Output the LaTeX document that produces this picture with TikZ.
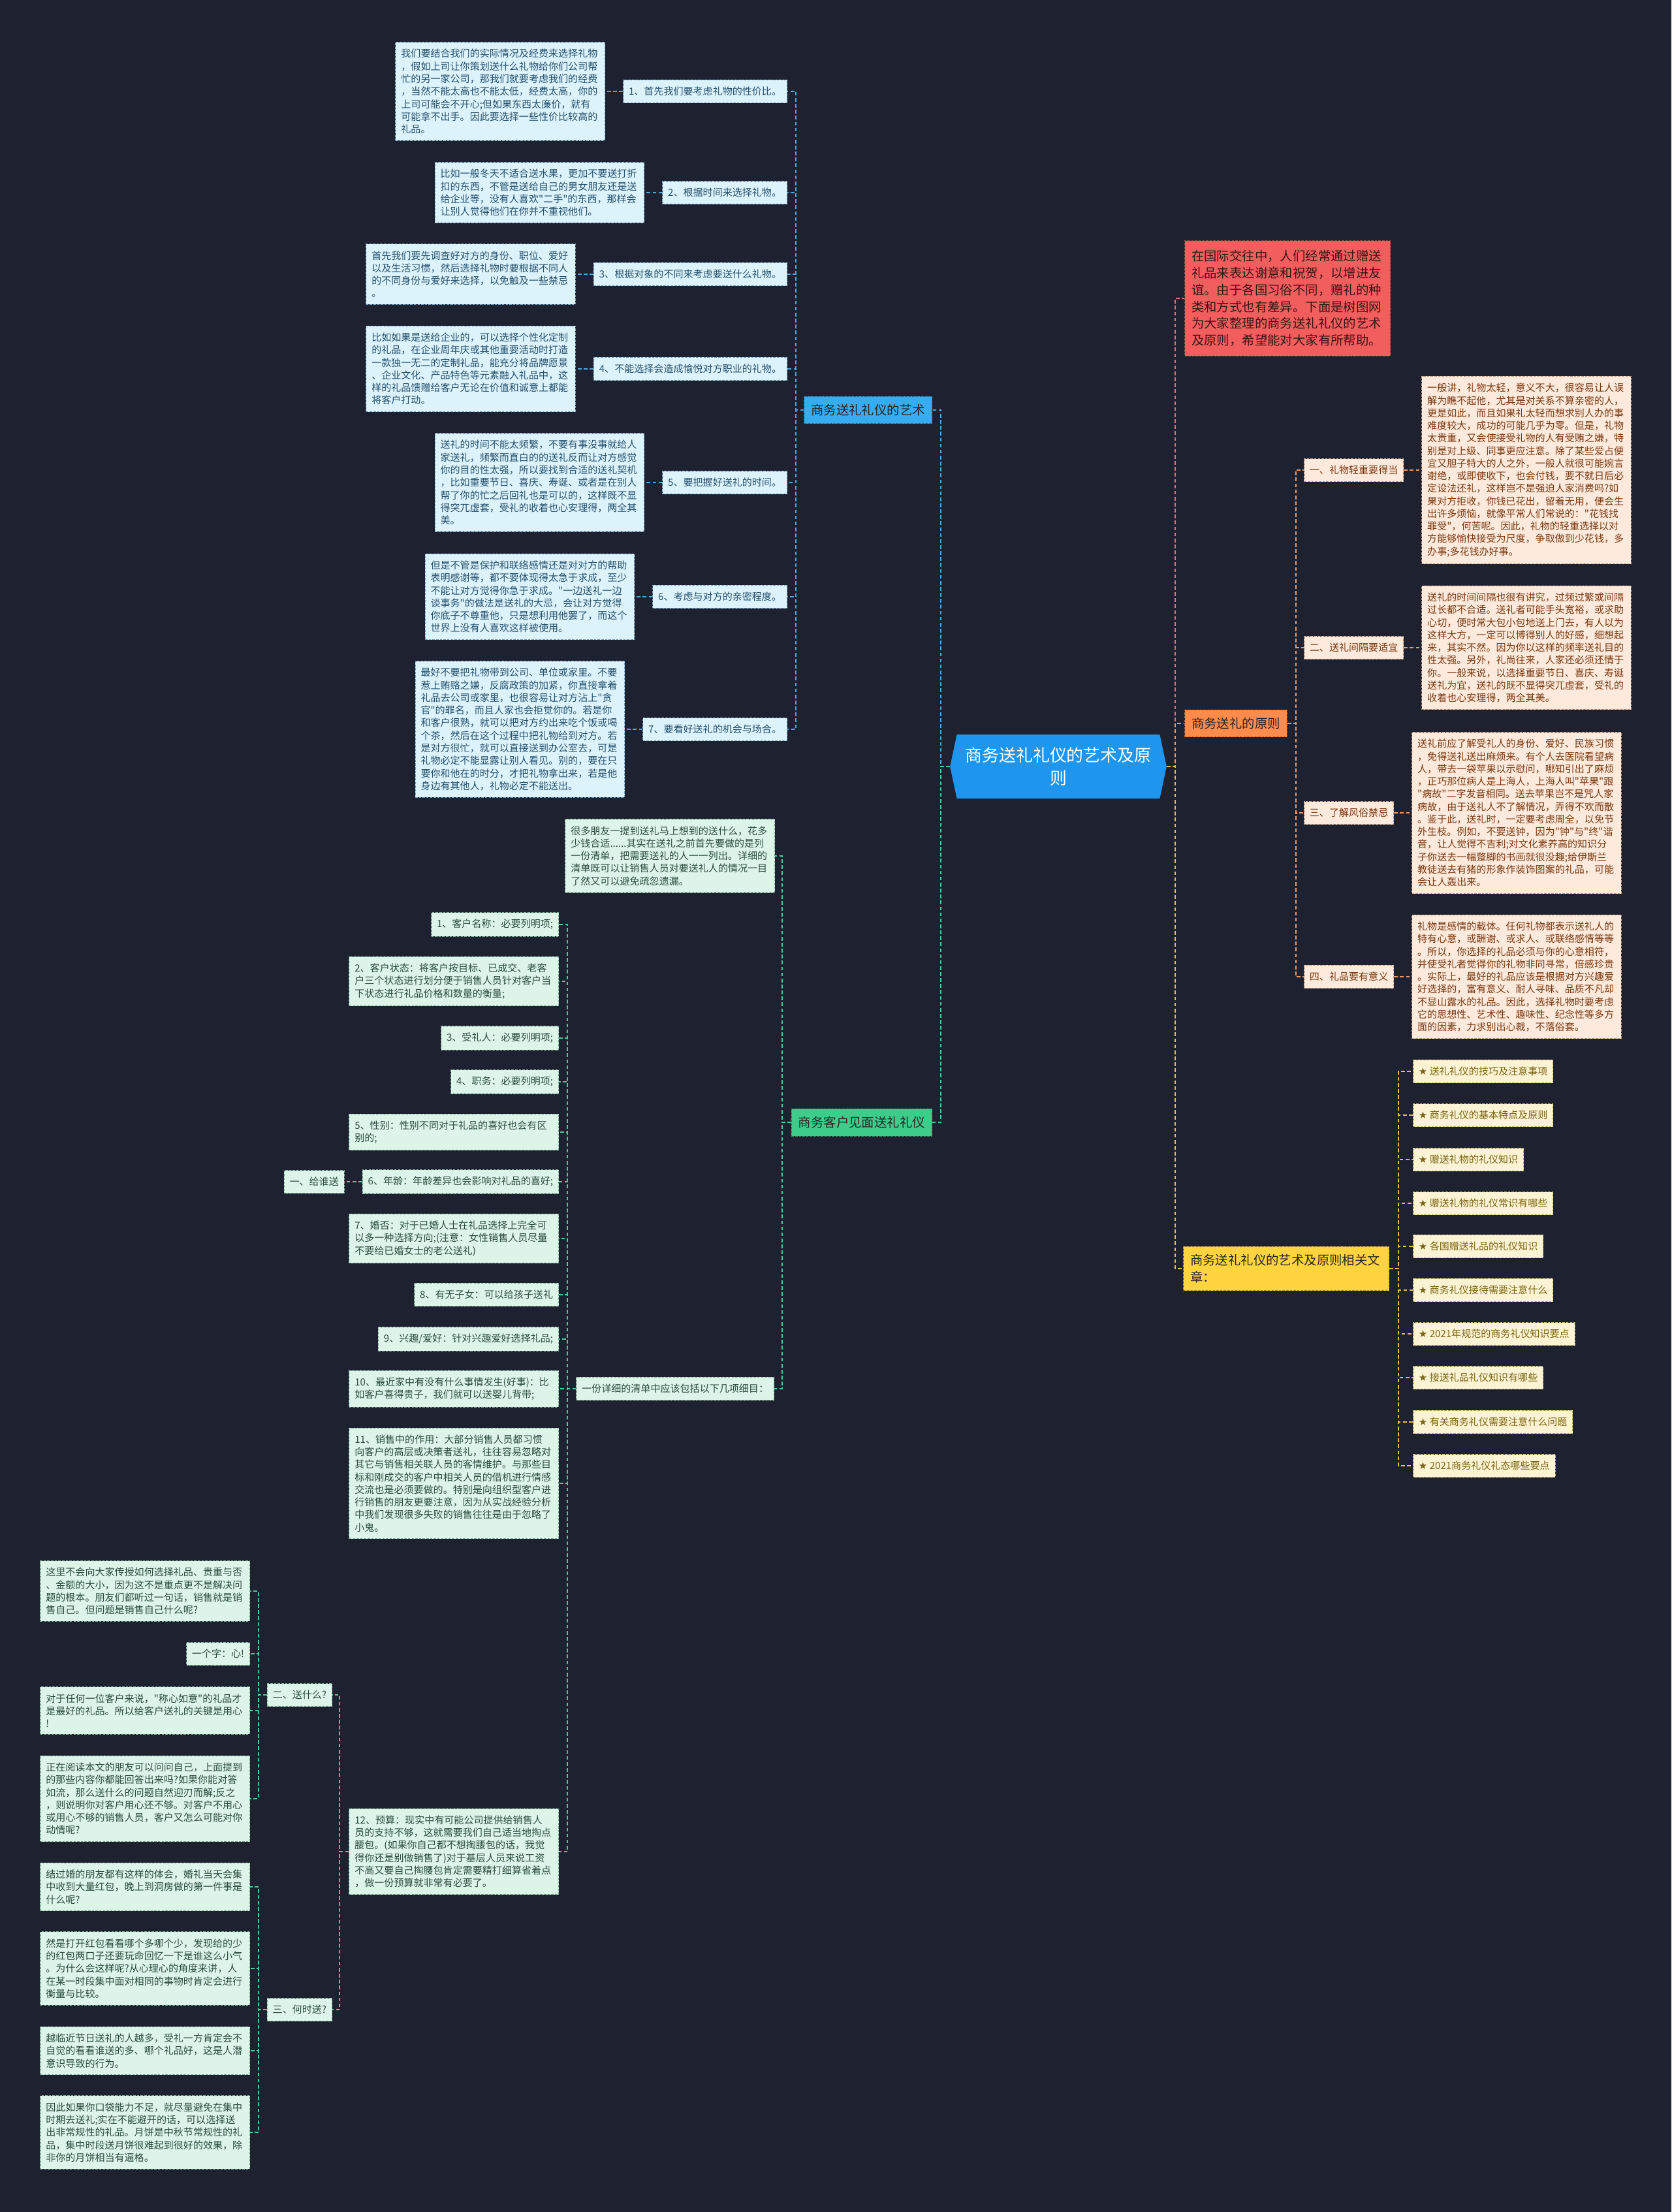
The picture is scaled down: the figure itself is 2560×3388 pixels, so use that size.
\documentclass[tikz,border=0pt]{standalone}
\usepackage{fontspec}
\newfontfamily\cjk{Noto Sans CJK SC}
\newfontfamily\symb{DejaVu Sans}
\usepackage{xcolor}
\usepackage{tikz}
\usetikzlibrary{positioning,shapes.symbols}

\newcommand\fxiao{\fontsize{10.7pt}{13.7pt}\selectfont}
\newcommand\fzhong{\fontsize{13.8pt}{18.3pt}\selectfont}
\newcommand\fda{\fontsize{18.4pt}{24.9pt}\selectfont}

\definecolor{bgdark}{HTML}{1E2230}
\definecolor{zhuti}{HTML}{1E96F0}
\definecolor{yishuc}{HTML}{38ACF0}
\definecolor{bleafc}{HTML}{DDF3FC}
\definecolor{bedgec}{HTML}{6FA2C0}
\definecolor{btextc}{HTML}{24506C}
\definecolor{blianc}{HTML}{4DA6DC}
\definecolor{kehuc}{HTML}{3DCC8A}
\definecolor{gleafc}{HTML}{DCF5E8}
\definecolor{gedgec}{HTML}{7AAE96}
\definecolor{gtextc}{HTML}{2B4A3E}
\definecolor{glianc}{HTML}{4FC79A}
\definecolor{yuanzec}{HTML}{FF8B4C}
\definecolor{oleafc}{HTML}{FDEADC}
\definecolor{oedgec}{HTML}{C39A7C}
\definecolor{otextc}{HTML}{7A3810}
\definecolor{olianc}{HTML}{EE9A68}
\definecolor{yinyanc}{HTML}{F25E5E}
\definecolor{rtextc}{HTML}{3A1414}
\definecolor{rlianc}{HTML}{E0707A}
\definecolor{wenzhangc}{HTML}{FFD43F}
\definecolor{yleafc}{HTML}{FBF3D3}
\definecolor{yedgec}{HTML}{C2AE66}
\definecolor{ytextc}{HTML}{7A6412}
\definecolor{ylianc}{HTML}{E2C04A}

\tikzset{
  lian/.style={line width=1.3pt, dash pattern=on 4pt off 2.5pt},
  blian/.style={lian, draw=blianc},
  glian/.style={lian, draw=glianc},
  olian/.style={lian, draw=olianc},
  rlian/.style={lian, draw=rlianc},
  ylian/.style={lian, draw=ylianc},
  kuang/.style={draw, dash pattern=on 2.5pt off 1.5pt, line width=0.7pt},
  leaf/.style={kuang, font=\cjk\fxiao, inner xsep=6pt, inner ysep=7.5pt, align=left},
  duan/.style={text width=216pt},
  bleaf/.style={leaf, fill=bleafc, draw=bedgec, text=btextc},
  gleaf/.style={leaf, fill=gleafc, draw=gedgec, text=gtextc},
  oleaf/.style={leaf, fill=oleafc, draw=oedgec, text=otextc},
  yleaf/.style={leaf, fill=yleafc, draw=yedgec, text=ytextc},
  zhi/.style={kuang, font=\cjk\fzhong, text=black!85, inner xsep=7.5pt, inner ysep=8.5pt, align=left},
  zhongxin/.style={signal, signal to=west and east, signal pointer angle=156, fill=zhuti,
    text=white, font=\cjk\fda, align=center, text width=205pt, inner xsep=8pt, minimum height=2.45cm}
}

\begin{document}
\begin{tikzpicture}[x=0.025cm, y=-0.025cm]
  % 1. 背景
  \fill[bgdark] (0,0) rectangle (2560,3388);
  \useasboundingbox (0,0) rectangle (2560,3388);
  \def\jian{0.675cm}

  % 2. 中心主题
  \node[zhongxin] (root) at (1621,1174) {商务送礼礼仪的艺术及原\\则};

  % 3. 一级分支
  \node[zhi, fill=yishuc, draw=yishuc!70!black, anchor=east] (yishu) at (1428,628) {商务送礼礼仪的艺术};
  \node[zhi, fill=kehuc, draw=kehuc!70!black, anchor=east] (kehu) at (1428,1719) {商务客户见面送礼礼仪};
  \node[zhi, fill=yinyanc, draw=yinyanc!70!black, text=rtextc, text width=209pt, inner ysep=10.5pt, anchor=west] (yinyan) at (1814,457)
    {在国际交往中，人们经常通过赠送\\礼品来表达谢意和祝贺，以增进友\\谊。由于各国习俗不同，赠礼的种\\类和方式也有差异。下面是树图网\\为大家整理的商务送礼礼仪的艺术\\及原则，希望能对大家有所帮助。};
  \node[zhi, fill=yuanzec, draw=yuanzec!70!black, anchor=west] (yuanze) at (1814,1108) {商务送礼的原则};
  \node[zhi, fill=wenzhangc, draw=wenzhangc!70!black, text width=209pt, anchor=west] (wenzhang) at (1812,1943)
    {商务送礼礼仪的艺术及原则相关文\\章：};

  % 4. 商务送礼礼仪的艺术
  \node[bleaf, anchor=east] (y1) at (1206,140) {1、首先我们要考虑礼物的性价比。};
  \node[bleaf, anchor=east] (y2) at (1206,295) {2、根据时间来选择礼物。};
  \node[bleaf, anchor=east] (y3) at (1206,420) {3、根据对象的不同来考虑要送什么礼物。};
  \node[bleaf, anchor=east] (y4) at (1206,565) {4、不能选择会造成愉悦对方职业的礼物。};
  \node[bleaf, anchor=east] (y5) at (1206,739) {5、要把握好送礼的时间。};
  \node[bleaf, anchor=east] (y6) at (1206,914) {6、考虑与对方的亲密程度。};
  \node[bleaf, anchor=east] (y7) at (1206,1117) {7、要看好送礼的机会与场合。};

  \node[bleaf, duan, left=\jian of y1] (t1) {我们要结合我们的实际情况及经费来选择礼物\\，假如上司让你策划送什么礼物给你们公司帮\\忙的另一家公司，那我们就要考虑我们的经费\\，当然不能太高也不能太低，经费太高，你的\\上司可能会不开心;但如果东西太廉价，就有\\可能拿不出手。因此要选择一些性价比较高的\\礼品。};
  \node[bleaf, duan, left=\jian of y2] (t2) {比如一般冬天不适合送水果，更加不要送打折\\扣的东西，不管是送给自己的男女朋友还是送\\给企业等，没有人喜欢"二手"的东西，那样会\\让别人觉得他们在你并不重视他们。};
  \node[bleaf, duan, left=\jian of y3] (t3) {首先我们要先调查好对方的身份、职位、爱好\\以及生活习惯，然后选择礼物时要根据不同人\\的不同身份与爱好来选择，以免触及一些禁忌\\。};
  \node[bleaf, duan, left=\jian of y4] (t4) {比如如果是送给企业的，可以选择个性化定制\\的礼品，在企业周年庆或其他重要活动时打造\\一款独一无二的定制礼品，能充分将品牌愿景\\、企业文化、产品特色等元素融入礼品中，这\\样的礼品馈赠给客户无论在价值和诚意上都能\\将客户打动。};
  \node[bleaf, duan, left=\jian of y5] (t5) {送礼的时间不能太频繁，不要有事没事就给人\\家送礼，频繁而直白的的送礼反而让对方感觉\\你的目的性太强，所以要找到合适的送礼契机\\，比如重要节日、喜庆、寿诞、或者是在别人\\帮了你的忙之后回礼也是可以的，这样既不显\\得突兀虚套，受礼的收着也心安理得，两全其\\美。};
  \node[bleaf, duan, left=\jian of y6] (t6) {但是不管是保护和联络感情还是对对方的帮助\\表明感谢等，都不要体现得太急于求成，至少\\不能让对方觉得你急于求成。"一边送礼一边\\谈事务"的做法是送礼的大忌，会让对方觉得\\你底子不尊重他，只是想利用他罢了，而这个\\世界上没有人喜欢这样被使用。};
  \node[bleaf, duan, left=\jian of y7] (t7) {最好不要把礼物带到公司、单位或家里。不要\\惹上贿赂之嫌，反腐政策的加紧，你直接拿着\\礼品去公司或家里，也很容易让对方沾上"贪\\官"的罪名，而且人家也会拒觉你的。若是你\\和客户很熟，就可以把对方约出来吃个饭或喝\\个茶，然后在这个过程中把礼物给到对方。若\\是对方很忙，就可以直接送到办公室去，可是\\礼物必定不能显露让别人看见。别的，要在只\\要你和他在的时分，才把礼物拿出来，若是他\\身边有其他人，礼物必定不能送出。};

  % 5. 商务送礼的原则
  \node[oleaf, anchor=west] (o1) at (1997,720) {一、礼物轻重要得当};
  \node[oleaf, anchor=west] (o2) at (1997,992) {二、送礼间隔要适宜};
  \node[oleaf, anchor=west] (o3) at (1997,1245) {三、了解风俗禁忌};
  \node[oleaf, anchor=west] (o4) at (1997,1496) {四、礼品要有意义};

  \node[oleaf, duan, right=\jian of o1] (s1) {一般讲，礼物太轻，意义不大，很容易让人误\\解为瞧不起他，尤其是对关系不算亲密的人，\\更是如此，而且如果礼太轻而想求别人办的事\\难度较大，成功的可能几乎为零。但是，礼物\\太贵重，又会使接受礼物的人有受贿之嫌，特\\别是对上级、同事更应注意。除了某些爱占便\\宜又胆子特大的人之外，一般人就很可能婉言\\谢绝，或即使收下，也会付钱，要不就日后必\\定设法还礼，这样岂不是强迫人家消费吗?如\\果对方拒收，你钱已花出，留着无用，便会生\\出许多烦恼，就像平常人们常说的："花钱找\\罪受"，何苦呢。因此，礼物的轻重选择以对\\方能够愉快接受为尺度，争取做到少花钱，多\\办事;多花钱办好事。};
  \node[oleaf, duan, right=\jian of o2] (s2) {送礼的时间间隔也很有讲究，过频过繁或间隔\\过长都不合适。送礼者可能手头宽裕，或求助\\心切，便时常大包小包地送上门去，有人以为\\这样大方，一定可以博得别人的好感，细想起\\来，其实不然。因为你以这样的频率送礼目的\\性太强。另外，礼尚往来，人家还必须还情于\\你。一般来说，以选择重要节日、喜庆、寿诞\\送礼为宜，送礼的既不显得突兀虚套，受礼的\\收着也心安理得，两全其美。};
  \node[oleaf, duan, right=\jian of o3] (s3) {送礼前应了解受礼人的身份、爱好、民族习惯\\，免得送礼送出麻烦来。有个人去医院看望病\\人，带去一袋苹果以示慰问，哪知引出了麻烦\\，正巧那位病人是上海人，上海人叫"苹果"跟\\"病故"二字发音相同。送去苹果岂不是咒人家\\病故，由于送礼人不了解情况，弄得不欢而散\\。鉴于此，送礼时，一定要考虑周全，以免节\\外生枝。例如，不要送钟，因为"钟"与"终"谐\\音，让人觉得不吉利;对文化素养高的知识分\\子你送去一幅蹩脚的书画就很没趣;给伊斯兰\\教徒送去有猪的形象作装饰图案的礼品，可能\\会让人轰出来。};
  \node[oleaf, duan, right=\jian of o4] (s4) {礼物是感情的载体。任何礼物都表示送礼人的\\特有心意，或酬谢、或求人、或联络感情等等\\。所以，你选择的礼品必须与你的心意相符，\\并使受礼者觉得你的礼物非同寻常，倍感珍贵\\。实际上，最好的礼品应该是根据对方兴趣爱\\好选择的，富有意义、耐人寻味、品质不凡却\\不显山露水的礼品。因此，选择礼物时要考虑\\它的思想性、艺术性、趣味性、纪念性等多方\\面的因素，力求别出心裁，不落俗套。};

  % 6. 相关文章
  \node[yleaf, anchor=west] (w1) at (2164,1641) {{\symb ★} 送礼礼仪的技巧及注意事项};
  \node[yleaf, anchor=west] (w2) at (2164,1708) {{\symb ★} 商务礼仪的基本特点及原则};
  \node[yleaf, anchor=west] (w3) at (2164,1776) {{\symb ★} 赠送礼物的礼仪知识};
  \node[yleaf, anchor=west] (w4) at (2164,1843) {{\symb ★} 赠送礼物的礼仪常识有哪些};
  \node[yleaf, anchor=west] (w5) at (2164,1909) {{\symb ★} 各国赠送礼品的礼仪知识};
  \node[yleaf, anchor=west] (w6) at (2164,1976) {{\symb ★} 商务礼仪接待需要注意什么};
  \node[yleaf, anchor=west] (w7) at (2164,2043) {{\symb ★} 2021年规范的商务礼仪知识要点};
  \node[yleaf, anchor=west] (w8) at (2164,2110) {{\symb ★} 接送礼品礼仪知识有哪些};
  \node[yleaf, anchor=west] (w9) at (2164,2178) {{\symb ★} 有关商务礼仪需要注意什么问题};
  \node[yleaf, anchor=west] (w10) at (2164,2245) {{\symb ★} 2021商务礼仪礼态哪些要点};

  % 7. 商务客户见面送礼礼仪
  \node[gleaf, duan, anchor=east] (gintro) at (1187,1311) {很多朋友一提到送礼马上想到的送什么，花多\\少钱合适......其实在送礼之前首先要做的是列\\一份清单，把需要送礼的人一一列出。详细的\\清单既可以让销售人员对要送礼人的情况一目\\了然又可以避免疏忽遗漏。};
  \node[gleaf, anchor=east] (glist) at (1186,2127) {一份详细的清单中应该包括以下几项细目：};

  \node[gleaf, anchor=east] (g1) at (856,1416) {1、客户名称：必要列明项;};
  \node[gleaf, duan, anchor=east] (g2) at (856,1503) {2、客户状态：将客户按目标、已成交、老客\\户三个状态进行划分便于销售人员针对客户当\\下状态进行礼品价格和数量的衡量;};
  \node[gleaf, anchor=east] (g3) at (856,1590) {3、受礼人：必要列明项;};
  \node[gleaf, anchor=east] (g4) at (856,1657) {4、职务：必要列明项;};
  \node[gleaf, duan, anchor=east] (g5) at (856,1734) {5、性别：性别不同对于礼品的喜好也会有区\\别的;};
  \node[gleaf, anchor=east] (g6) at (856,1810) {6、年龄：年龄差异也会影响对礼品的喜好;};
  \node[gleaf, duan, anchor=east] (g7) at (856,1897) {7、婚否：对于已婚人士在礼品选择上完全可\\以多一种选择方向;(注意：女性销售人员尽量\\不要给已婚女士的老公送礼)};
  \node[gleaf, anchor=east] (g8) at (856,1983) {8、有无子女：可以给孩子送礼};
  \node[gleaf, anchor=east] (g9) at (856,2051) {9、兴趣/爱好：针对兴趣爱好选择礼品;};
  \node[gleaf, duan, anchor=east] (g10) at (856,2127) {10、最近家中有没有什么事情发生(好事)：比\\如客户喜得贵子，我们就可以送婴儿背带;};
  \node[gleaf, duan, anchor=east] (g11) at (856,2272) {11、销售中的作用：大部分销售人员都习惯\\向客户的高层或决策者送礼，往往容易忽略对\\其它与销售相关联人员的客情维护。与那些目\\标和刚成交的客户中相关人员的借机进行情感\\交流也是必须要做的。特别是向组织型客户进\\行销售的朋友更要注意，因为从实战经验分析\\中我们发现很多失败的销售往往是由于忽略了\\小鬼。};
  \node[gleaf, duan, anchor=east] (g12) at (856,2836) {12、预算：现实中有可能公司提供给销售人\\员的支持不够，这就需要我们自己适当地掏点\\腰包。(如果你自己都不想掏腰包的话，我觉\\得你还是别做销售了)对于基层人员来说工资\\不高又要自己掏腰包肯定需要精打细算省着点\\，做一份预算就非常有必要了。};

  \node[gleaf, left=\jian of g6] (gsong) {一、给谁送};
  \node[gleaf, anchor=east] (q2) at (509,2596) {二、送什么?};
  \node[gleaf, anchor=east] (q3) at (509,3078) {三、何时送?};

  \node[gleaf, duan, anchor=east] (a1) at (383,2437) {这里不会向大家传授如何选择礼品、贵重与否\\、金额的大小，因为这不是重点更不是解决问\\题的根本。朋友们都听过一句话，销售就是销\\售自己。但问题是销售自己什么呢?};
  \node[gleaf, anchor=east] (a2) at (383,2533) {一个字：心!};
  \node[gleaf, duan, anchor=east] (a3) at (383,2620) {对于任何一位客户来说，"称心如意"的礼品才\\是最好的礼品。所以给客户送礼的关键是用心\\!};
  \node[gleaf, duan, anchor=east] (a4) at (383,2755) {正在阅读本文的朋友可以问问自己，上面提到\\的那些内容你都能回答出来吗?如果你能对答\\如流，那么送什么的问题自然迎刃而解;反之\\，则说明你对客户用心还不够。对客户不用心\\或用心不够的销售人员，客户又怎么可能对你\\动情呢?};
  \node[gleaf, duan, anchor=east] (b1) at (383,2890) {结过婚的朋友都有这样的体会，婚礼当天会集\\中收到大量红包，晚上到洞房做的第一件事是\\什么呢?};
  \node[gleaf, duan, anchor=east] (b2) at (383,3015) {然是打开红包看看哪个多哪个少，发现给的少\\的红包两口子还要玩命回忆一下是谁这么小气\\。为什么会这样呢?从心理心的角度来讲，人\\在某一时段集中面对相同的事物时肯定会进行\\衡量与比较。};
  \node[gleaf, duan, anchor=east] (b3) at (383,3141) {越临近节日送礼的人越多，受礼一方肯定会不\\自觉的看看谁送的多、哪个礼品好，这是人潜\\意识导致的行为。};
  \node[gleaf, duan, anchor=east] (b4) at (383,3266) {因此如果你口袋能力不足，就尽量避免在集中\\时期去送礼;实在不能避开的话，可以选择送\\出非常规性的礼品。月饼是中秋节常规性的礼\\品，集中时段送月饼很难起到很好的效果，除\\非你的月饼相当有逼格。};

  % 8. 连线：中心到分支
  \draw[blian] (root.west) -- ++(-14,0) |- (yishu.east);
  \draw[glian] (root.west) -- ++(-14,0) |- (kehu.east);
  \draw[rlian] (root.east) -- ++(13,0) |- (yinyan.west);
  \draw[olian] (root.east) -- ++(13,0) |- (yuanze.west);
  \draw[ylian] (root.east) -- ++(13,0) |- (wenzhang.west);

  % 9. 连线：分支到子节点
  \foreach \i in {1,...,7} {
    \draw[blian] (yishu.west) -- ++(-12,0) |- (y\i.east);
    \draw[blian] (y\i.west) -- (t\i.east);
  }
  \foreach \i in {1,...,4} {
    \draw[olian] (yuanze.east) -- ++(13,0) |- (o\i.west);
    \draw[olian] (o\i.east) -- (s\i.west);
  }
  \foreach \i in {1,...,10}
    \draw[ylian] (wenzhang.east) -- ++(14,0) |- (w\i.west);

  \draw[glian] (kehu.west) -- ++(-14,0) |- (gintro.east);
  \draw[glian] (kehu.west) -- ++(-14,0) |- (glist.east);
  \foreach \i in {1,...,12}
    \draw[glian] (glist.west) -- ++(-13,0) |- (g\i.east);
  \draw[glian] (g6.west) -- (gsong.east);
  \draw[glian] (g12.west) -- ++(-14,0) |- (q2.east);
  \draw[glian] (g12.west) -- ++(-14,0) |- (q3.east);
  \foreach \i in {1,...,4} {
    \draw[glian] (q2.west) -- ++(-13,0) |- (a\i.east);
    \draw[glian] (q3.west) -- ++(-13,0) |- (b\i.east);
  }
\end{tikzpicture}
\end{document}
